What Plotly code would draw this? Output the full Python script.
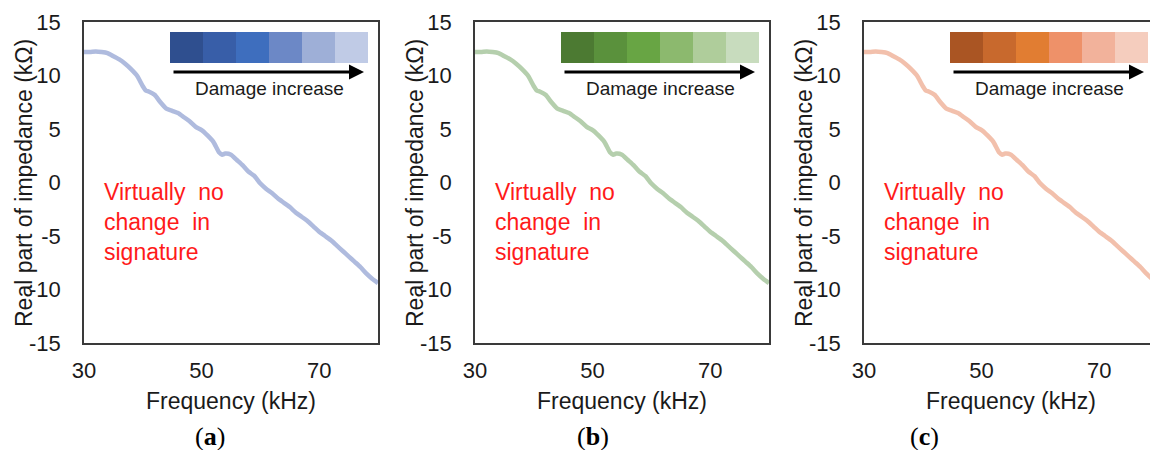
import plotly.graph_objects as go

# ---------------- data ----------------
frequency_khz = [30, 31, 32, 33, 34, 35, 36, 37, 38, 39, 40, 40.5, 41, 42, 43, 44, 45, 46, 47, 48, 49,
                 50, 51, 52, 53, 53.5, 54, 55, 56, 57, 58, 59, 60, 61, 62, 63, 64, 65, 66, 67, 68,
                 69, 70, 71, 72, 73, 74, 75, 76, 77, 78, 79, 80]
impedance_kohm = [12.2, 12.2, 12.25, 12.2, 12.1, 11.8, 11.5, 11.1, 10.6, 10.0, 9.0, 8.6, 8.5, 8.2, 7.5,
                  6.9, 6.7, 6.5, 6.1, 5.7, 5.2, 4.9, 4.4, 3.8, 2.8, 2.6, 2.7, 2.6, 2.1, 1.6, 1.0, 0.6,
                  -0.1, -0.6, -1.0, -1.5, -1.9, -2.3, -2.8, -3.2, -3.6, -4.1, -4.6, -5.0, -5.4, -5.9,
                  -6.4, -6.9, -7.4, -7.9, -8.5, -9.0, -9.4]

panel_labels = ["a", "b", "c"]
x_ticks = [30, 50, 70]
y_ticks = [-15, -10, -5, 0, 5, 10, 15]
y_tick_text = ["-15", "-10", "-5", "0", "5", "10", "15"]

damage_colors = {
    "a": ["#2F4F8F", "#385EA8", "#3E6EBE", "#6C88C6", "#9EAFD7", "#C0CBE6"],
    "b": ["#4C7A32", "#5A913C", "#68A544", "#8CB96E", "#AFCD9B", "#C8DCBE"],
    "c": ["#AA5523", "#C8692D", "#E17D32", "#EE9169", "#F2B29B", "#F5CDBE"],
}
line_colors = {"a": "#AFBBDE", "b": "#B5CFAD", "c": "#F2C0AC"}

# ---------------- layout geometry (pixels) ----------------
W, H = 1150, 450
plot_left = {"a": 84, "b": 475, "c": 864}
plot_w = 294
plot_top, plot_bot = 22, 343
x_max_full = 80.0
px_per_khz = plot_w / (x_max_full - 30)

def px(x):
    return x / W

def py(y):
    return 1 - y / H

FONT = "Liberation Sans, Arial, sans-serif"
TXT = "#1a1a1a"

fig = go.Figure()
shapes = []
annotations = []

def note(x, y, text, size, color=TXT, family=FONT, **kw):
    d = dict(xref="paper", yref="paper", x=px(x), y=py(y), text=text, showarrow=False,
             xanchor="center", yanchor="middle",
             font=dict(family=family, size=size, color=color))
    d.update(kw)
    annotations.append(d)

for i, p in enumerate(panel_labels):
    left = plot_left[p]
    right = min(left + plot_w, W)
    x_hi = 30 + (right - left) / px_per_khz
    sfx = "" if i == 0 else str(i + 1)
    xa, ya = "x" + sfx, "y" + sfx

    fig.add_trace(go.Scatter(
        x=frequency_khz, y=impedance_kohm, mode="lines",
        line=dict(color=line_colors[p], width=4.5, shape="spline", smoothing=0.5),
        xaxis=xa, yaxis=ya, showlegend=False, hoverinfo="skip"))

    fig.layout["xaxis" + sfx] = dict(
        domain=[px(left), px(right)], range=[30, x_hi], anchor=ya,
        tickvals=x_ticks, showgrid=False, zeroline=False,
        showline=True, linecolor="#3a3a3a", linewidth=1.5, mirror=True,
        ticks="", ticklabelstandoff=7, automargin=False,
        tickfont=dict(family=FONT, size=22, color=TXT))
    fig.layout["yaxis" + sfx] = dict(
        domain=[py(plot_bot), py(plot_top)], range=[-15, 15], anchor=xa,
        tickvals=y_ticks, ticktext=y_tick_text, showgrid=False, zeroline=False,
        showline=True, linecolor="#3a3a3a", linewidth=1.5, mirror=(p != "c"),
        ticks="", ticklabelstandoff=17, automargin=False,
        tickfont=dict(family=FONT, size=22, color=TXT))

    # damage colour strip
    bx0 = left + 86
    bw = 33
    for k, col in enumerate(damage_colors[p]):
        shapes.append(dict(type="rect", xref="paper", yref="paper",
                           x0=px(bx0 + k * bw), x1=px(bx0 + (k + 1) * bw),
                           y0=py(63), y1=py(32), fillcolor=col, line=dict(width=0),
                           layer="above"))
    # arrow
    annotations.append(dict(xref="paper", yref="paper", x=px(bx0 + 194), y=py(72),
                            ax=-192, ay=0, showarrow=True, arrowhead=2, arrowsize=1,
                            arrowwidth=3, arrowcolor="#000000", text=""))
    note(bx0 + 99, 88, "Damage increase", 19)
    # red note
    note(left + 18, 222, "Virtually  no<br>change  in<br>signature", 23, color="#FF1A1A",
         xanchor="left", align="left")
    # axis titles
    note(left + plot_w / 2, 401, "Frequency (kHz)", 23)
    note(left - 60, 183, "Real part of impedance (kΩ)", 23, textangle=-90)
    # caption
    cap_x = {"a": 210, "b": 593, "c": 924}[p]
    note(cap_x, 436, "(<b>%s</b>)" % p, 26, color="#000000",
         family="Liberation Serif, Times New Roman, serif")

fig.update_layout(width=W, height=H,
                  margin=dict(l=0, r=0, t=0, b=0, pad=0, autoexpand=False),
                  paper_bgcolor="white", plot_bgcolor="white",
                  shapes=shapes, annotations=annotations, showlegend=False)

fig.write_html("out.html", config={"displayModeBar": False},
               post_script="document.body.style.margin='0';document.body.style.overflow='hidden';")
